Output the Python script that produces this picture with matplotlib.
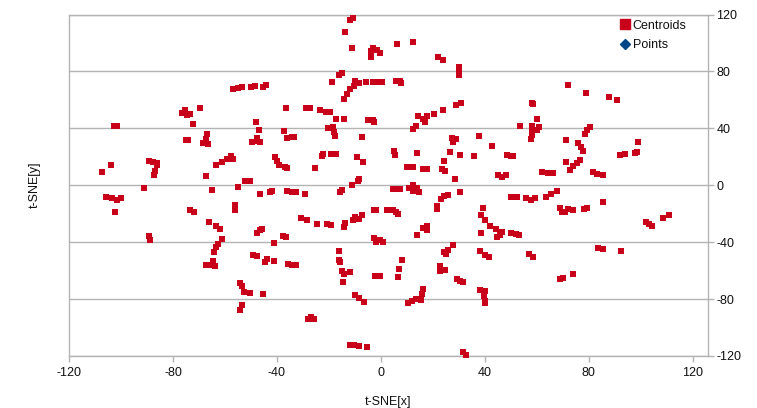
import matplotlib
matplotlib.use('Agg')
import matplotlib.pyplot as plt
from matplotlib.lines import Line2D

plt.rcParams['font.family'] = ['Liberation Sans', 'DejaVu Sans']
plt.rcParams['axes.unicode_minus'] = False

# centroids, upper half
upper_x = [-10.6, -11.9, -13.8, -11, -3.2, -4, -1.7, -0.4, -4, -15, -16, -18.8, -9.9, -8.3, -5.9, -3, -1.4, 0.4,
           -10.5, -12, -13.2, -14.2, -57.1, -55.1, -53.3, -50, -48.3, -45.2, -44.2, -36.5, -28.9, -27.3, -23.5,
           -21.1, -19.6, -17.4, -14.1, -4.9, -3.2, -2.6, -69.6, -75.4, -76.4, -74.7, -73.5, -72.2, -102.6, -101.6,
           -48.1, -46.8, -37.3, -36, -34.4, -33.6, -20.3, -18.3, -17.9, -17.6, -7.4, -66.8, -67.3, -68.3, -66.4,
           -74.1, -75, -49.7, -47.6, -47.8, -46.5, -89.1, -87.6, -86.3, -86, -87, -87.4, -104, -107.2, -67.4,
           -63.3, -61.3, -59.4, -57.6, -56.8, -40.6, -40.1, -39.2, -36.9, -36.3, -25.4, -22.8, -22.4, -19.3,
           -17.3, -9.4, -6.8, -51.3, -52.3, -50.2, -11.3, -9, -8.3,
           6.3, 12.4, 22, 24, 30, 30, 30, 5.8, 7.3, 7.8, 72, 79, 87.8, 90.9, 28.9, 30.8, 24, 20.5, 14.4, 17.6,
           16, 17, 13.5, 12.4, 58, 58.6, 60, 53.6, 58, 60.9, 60.1, 58, 57.7, 58.2, 80.4, 79.4, 78.5, 27.2, 28.9,
           27.8, 37.7, 42.8, 71.2, 75.8, 77.1, 77.8, 99, 5, 5.4, 14, 26.5, 30.5, 35.9, 48.3, 50, 50.6, 92, 93.9,
           97.7, 98.6, 76.5, 75.3, 74, 72.7, 71.3, 24.4, 9.9, 11.2, 12.4, 16, 17.6, 23.3, 24.8, 28.5, 61.8, 64.4,
           66.3, 45.1, 46.4, 48.1, 81.7, 83.2, 85.3]
upper_y = [117.3, 116.2, 108, 96.3, 96.7, 94.6, 95.1, 92.8, 90.4, 79.2, 77.8, 72.4, 73.1, 71.7, 72.4, 72.7, 72.9, 72.9,
           69.4, 67.5, 64, 60.7, 67.5, 68.4, 68.9, 69.1, 69.4, 69.1, 70.5, 54.2, 54.6, 54.2, 52.8,
           51.8, 51.4, 46.5, 46.7, 45.8, 46, 44.8, 54.2, 53, 50.7, 49.5, 50.4, 43, 41.8, 41.8,
           44.6, 38.7, 38, 33.1, 34, 34.2, 39.9, 40.6, 37.1, 34.3, 33.6, 35.9, 32.6, 29.6, 28.9,
           31.7, 31.7, 30.1, 33.1, 30.8, 30.3, 17, 16.5, 15.3, 13.9, 9.7, 6.9, 13.9, 9.3, 6.7,
           14.4, 16.5, 18.4, 20.5, 18.4, 19.6, 17.2, 14.4, 12.5, 12, 12, 20.3, 21.9, 21.9,
           21.9, 19.8, 16, 3.2, 2.8, 3.2, 0.1, 2.7, 4.3,
           99.3, 100.5, 90, 88.3, 83.4, 77.6, 81, 73.4, 73.4, 71.7, 70.3, 64.7, 61.9, 60, 56.5, 57.5, 52.8, 50, 49, 48.6,
           46.7, 44.8, 41.3, 39.4, 57.7, 56.8, 46.7, 41.3, 41.3, 41, 38.5, 39, 32.7, 35.4, 40.8, 38.5, 36.2, 33.1, 32.2,
           30.1, 34.5, 27.5, 31.7, 29.6, 26.8, 24, 30.3, 23.8, 21.4, 22.8, 23.5, 21.2, 20.5, 21.2, 20.3, 20.3, 21.4, 21.9,
           23, 23.3, 17.7, 15.6, 13.2, 10.7, 16, 17, 12.8, 12.8, 12.8, 11.6, 11.4, 11.6, 10, 4.1, 9.3, 8.6,
           8.3, 7.4, 5.8, 7.2, 9.3, 7.6, 7.2]

# centroids, lower half
lower_x = [-91, -65.1, -54.9, -46.4, -42.7, -41.8, -36, -34.4, -32.7, -29.2, -15.8, -15.1, -105.9, -103.3, -101.4, -100,
           -102.4, -73.5, -71.8, -56, -56, -66.3, -63.6, -61.8, -61, -62.6, -63.6, -64.1, -67.3, -65.8, -64.5, -63.7,
           -89.1, -88.7, -47.8, -46.5, -45.6, -37.6, -36.5, -41, -30.8, -28.3, -24.7, -20.6, -19.2, -14.4, -13.7,
           -10.6, -10, -8.3, -7.4, -2.7, -1.9, 2.4, -16.1, -16, -15.9, -49.4, -47.8, -44, -44.6, -41, -35.9, -34.4,
           -32.8, -15.1, -14.1, -12, -14.5, -2.3, -0.9, -54.4, -53.6, -52.6, -50.4, -45.3, -10, -8.3, -6.4, -53.6,
           -54.2, -27.9, -27, -25.6, -12, -10.4, -8.5, -5.2, -2.7, -1.9, -0.4, 0.9,
           4.8, 6, 7.3, 10.9, 12.4, 12.4, 13.7, 14.7, 30.5, 25.9, 24.4, 23, 21.7, 21.6, 2.6, 4.8, 5.6, 6.7, 16.3, 17.8,
           17.8, 14, 39.1, 38.6, 40, 42, 44.1, 38.5, 46.7, 44.8, 45.8, 50, 52, 53.2, 49.9, 51.5, 52.4, 55.6, 57.7, 59.4,
           63.3, 65.5, 67.6, 69, 69.5, 70.8, 71.8, 73.7, 78.1, 79.1, 85.4, 101.8, 103.2, 104.4, 108.6, 110.8, 83.5,
           85.3, 92.3, 57, 58.3, 38.1, 40, 41.7, 27.8, 25.9, 24.4, 25.1, 8, 7, 6.7, 22.8, 22.7, 24.6, 29.4, 30.4, 31.4,
           68.8, 69.9, 74, 38.2, 40, 39.8, 40, 39.9, 16.3, 15.6, 15.3, 13.5, 12, 10.5, 31.7, 32.6, -0.4]
lower_y = [-2, -3.6, -1.3, -6.2, -4.6, -4.2, -3.9, -4.8, -5, -6, -4.6, -3.6, -8, -9.2, -10.4, -9.2,
           -18.8, -17.4, -19, -14, -17.2, -25.6, -28.7, -30.8, -37.8, -41.3, -43.2, -46.9, -56, -55.8, -53.5, -57,
           -35.4, -38.2, -33.6, -31.7, -30.8, -35.4, -36.4, -40.8, -22.8, -24.4, -27.3, -27.3, -27.7, -29.6, -26.5,
           -24.2, -22.6, -23.7, -21, -17.2, -17.4, -17.7, -46.4, -52.3, -54.1, -49.2, -50, -51.8, -53.9, -53.5, -55.3, -56,
           -56.3, -60, -62.1, -61.2, -67.7, -63.7, -63.7, -68.9, -70.5, -74.7, -75.4, -76.4, -77.3, -79.4, -81.8, -84.1,
           -87.4, -93.9, -92.5, -93.9, -112, -112.4, -112.9, -113.8, -36.8, -39.6, -38.2, -40.1,
           -2.7, -2.7, -2.7, -2, -0.1, -3.9, -2, -4.6, -4.8, -6.9, -7.6, -9.5, -14.9, -16.5, -17.7, -17.4, -18.6, -20.2, -30.3, -28.4,
           -31.2, -35.2, -16, -20.7, -24.2, -28.4, -30.8, -33.3, -33.1, -36.1, -34.8, -33.6, -34.3, -35, -8.3, -8.1, -8.3, -9, -10.2, -9,
           -8.3, -6.4, -4.3, -16.3, -18.8, -18.8, -17, -17.7, -16.5, -16, -12, -26.1, -27.3, -28.7, -23, -21.2, -43.9,
           -44.8, -46.2, -48.5, -50.2, -46.2, -48.8, -50.4, -42, -45.7, -47.1, -48.5, -52.5, -58.8, -64.4, -56.5, -60, -59.5, -65.9, -67, -68,
           -65.9, -65.4, -62.6, -73.6, -74.3, -78, -82.9, -81.5, -72.9, -76.1, -80.6, -79.7, -81.5, -82.7, -117.5, -119.2, -64]

x_ticks = [-120, -80, -40, 0, 40, 80, 120]
y_ticks = [-120, -80, -40, 0, 40, 80, 120]

fig = plt.figure(figsize=(7.57, 4.08), dpi=100)
ax = fig.add_axes([69 / 757, 1 - 356 / 408, (708 - 69) / 757, (356 - 14.5) / 408])

red = '#c9001a'
grey = '#b3b3b3'
ax.scatter(upper_x + lower_x, upper_y + lower_y, marker='s', s=18, color=red, linewidths=0, zorder=3, clip_on=False)

ax.set_xlim(-120, 125.8)
ax.set_ylim(-120, 120)
ax.set_xticks(x_ticks)
ax.set_yticks(y_ticks)
ax.yaxis.tick_right()
ax.yaxis.set_label_position('left')
ax.grid(axis='y', color=grey, linewidth=1)
ax.set_axisbelow(True)
for s in ax.spines.values():
    s.set_color(grey)
    s.set_linewidth(1)
ax.tick_params(labelcolor='#111111', color=grey, labelsize=9, length=4, width=1, pad=3)
ax.tick_params(axis='y', pad=2)
ax.tick_params(axis='x', pad=4)
ax.set_xlabel('t-SNE[x]', fontsize=9, color='#111111', labelpad=12)
ax.set_ylabel('t-SNE[y]', fontsize=9, color='#111111', labelpad=20)

handles = [Line2D([], [], linestyle='', marker='s', markersize=6.5, color=red),
           Line2D([], [], linestyle='', marker='D', markersize=5.5, color='#004586')]
ax.legend(handles, ['Centroids', 'Points'], loc='upper left', bbox_to_anchor=(0.835, 1.014), frameon=False,
          fontsize=9, handletextpad=-0.4, labelspacing=0.6, borderpad=0.3, labelcolor='#111111')

fig.savefig('out.png', dpi=100)
